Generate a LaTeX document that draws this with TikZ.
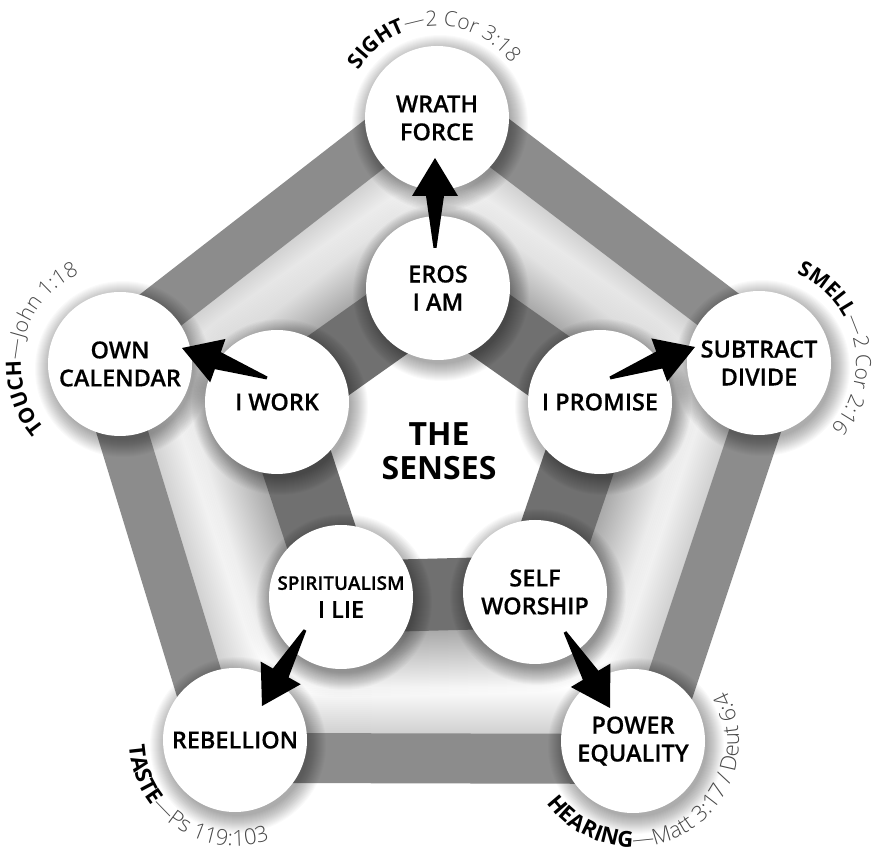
\documentclass[tikz,border=0pt]{standalone}
\usepackage{fontspec}
\setmainfont{Open Sans}
\IfFontExistsTF{Open Sans Semibold}{\newfontfamily\semib{Open Sans Semibold}[FakeBold=0.4]}{%
  \IfFontExistsTF{Open Sans SemiBold}{\newfontfamily\semib{Open Sans SemiBold}[FakeBold=0.4]}{%
    \newfontfamily\semib{Open Sans}[FakeBold=2.5]}}
\IfFontExistsTF{Open Sans Light}{\newfontfamily\lightf{Open Sans Light}}{\newfontfamily\lightf{Open Sans}}
\usetikzlibrary{calc,decorations.text}
\pgfdeclarelayer{bgl}
\pgfdeclarelayer{shl}
\pgfsetlayers{bgl,shl,main}
\definecolor{outerband}{gray}{0.55}
\definecolor{innerband}{gray}{0.44}
\definecolor{reftext}{gray}{0.28}
\newcommand\lblB{\normalfont\bfseries\fontsize{21}{21}\selectfont\color{black}}
\newcommand\lblL{\lightf\fontsize{21}{21}\selectfont\color{reftext}}
\newcommand\lblBb{\normalfont\bfseries\fontsize{22}{22}\selectfont\color{black}}
\newcommand\lblLb{\lightf\fontsize{22}{22}\selectfont\color{reftext}}
\newcommand\arclabel[5]{%
  \path[decorate, decoration={text along path, text align=center, text={#5}}]
    ($(#1)+(#3:#2)$) arc[start angle=#3, end angle=#4, radius=#2];}
\newcommand\fatarrow[2]{%
  \coordinate (arT) at (#1);
  \coordinate (arH) at (#2);
  \coordinate (arB) at ($(arH)!38pt!(arT)$);
  \fill[arrowfill] ($(arT)!1.5pt!90:(arH)$) -- ($(arB)!9pt!90:(arH)$) -- ($(arB)!23pt!90:(arH)$)
    -- (arH) -- ($(arB)!23pt!-90:(arH)$) -- ($(arB)!9pt!-90:(arH)$) -- ($(arT)!1.5pt!-90:(arH)$) -- cycle;}
\tikzset{
  bub/.style={circle, fill=white, minimum size=144pt, inner sep=0pt, align=center,
    font=\semib\fontsize{23.5}{28}\selectfont, text=black},
  titletext/.style={align=center, font=\bfseries\fontsize{32}{34}\selectfont, text=black},
  arrowfill/.style={fill=black},
  obandstyle/.style={draw=outerband, line width=50pt, line join=round},
  ibandstyle/.style={draw=innerband, line width=72pt, line join=round},
}
\begin{document}
\begin{tikzpicture}[x=1pt,y=1pt]
\useasboundingbox (0,0) rectangle (876,852);
% circles
\node[bub] (WF) at (437,734) {WRATH\\FORCE};
\node[bub] (OC) at (120,488) {OWN\\CALENDAR};
\node[bub] (SD) at (759,489) {SUBTRACT\\DIVIDE};
\node[bub] (RB) at (235,112) {REBELLION};
\node[bub] (PE) at (633,111) {POWER\\EQUALITY};
\node[bub] (EA) at (438,564) {EROS\\I AM};
\node[bub] (IW) at (277,450) {I WORK};
\node[bub] (IP) at (600,450) {I PROMISE};
\node[bub] (SL) at (341,255) {{\fontsize{19}{26}\selectfont SPIRITUALISM}\\I LIE};
\node[bub] (SW) at (535,260) {SELF\\WORSHIP};
\node[titletext] (TS) at (439,401) {THE\\SENSES};
% band geometry
\coordinate (Co) at (437,387);
\coordinate (o1) at ($(Co)!1.065!(WF)$);
\coordinate (o2) at ($(Co)!1.065!(SD)$);
\coordinate (o3) at ($(Co)!1.065!(PE)$);
\coordinate (o4) at ($(Co)!1.065!(RB)$);
\coordinate (o5) at ($(Co)!1.065!(OC)$);
\coordinate (i1) at (EA.center);
\coordinate (i2) at (IP.center);
\coordinate (i3) at (SW.center);
\coordinate (i4) at (SL.center);
\coordinate (i5) at (IW.center);
\begin{pgfonlayer}{bgl}
  \fill[white] (0,0) rectangle (876,852);
  \begin{scope}
    \clip (o1) -- (o2) -- (o3) -- (o4) -- (o5) -- cycle;
    \foreach \w in {52,56,...,140}
      \draw[black, opacity=0.007, line width=\w pt, line join=round] (o1) -- (o2) -- (o3) -- (o4) -- (o5) -- cycle;
  \end{scope}
  \foreach \w in {74,77,...,200}
    \draw[black, opacity=0.0085, line width=\w pt, line join=round] (i1) -- (i2) -- (i3) -- (i4) -- (i5) -- cycle;
  \fill[white] (i1) -- (i2) -- (i3) -- (i4) -- (i5) -- cycle;
  \draw[obandstyle] (o1) -- (o2) -- (o3) -- (o4) -- (o5) -- cycle;
  \draw[ibandstyle] (i1) -- (i2) -- (i3) -- (i4) -- (i5) -- cycle;
\end{pgfonlayer}
\begin{pgfonlayer}{shl}
  \foreach \n in {WF,OC,SD,RB,PE,EA,IW,IP,SL,SW}{
    \foreach \r in {71,...,88}
      \fill[black, opacity=0.02] ($(\n)+(3,-5)$) circle[radius=\r pt];
  }
\end{pgfonlayer}
% arrows
\fatarrow{$(EA)+(-3,40)$}{$(WF)+(-2,-40)$}
\fatarrow{$(IW)+(-10,24)$}{$(OC)+(62,16)$}
\fatarrow{$(IP)+(10,24)$}{$(SD)+(-64,16)$}
\fatarrow{$(SL)+(-36,-33)$}{$(RB)+(27,34)$}
\fatarrow{$(SW)+(30,-40)$}{$(PE)+(-23,33)$}
% curved labels
\arclabel{WF}{92pt}{190}{-5}{|\lblB|SIGHT|\lblL|—2 Cor 3:18}
\arclabel{OC}{99pt}{260}{75}{|\lblB|TOUCH|\lblL|—John 1:18}
\arclabel{SD}{97pt}{100}{-75}{|\lblB|SMELL|\lblL|—2 Cor 2:16}
\arclabel{RB}{106pt}{140}{332}{|\lblBb|TASTE|\lblLb|—Ps 119:103}
\arclabel{PE}{106pt}{190}{414}{|\lblBb|HEARING|\lblLb|—Matt 3:17 / Deut 6:4}
\end{tikzpicture}
\end{document}
